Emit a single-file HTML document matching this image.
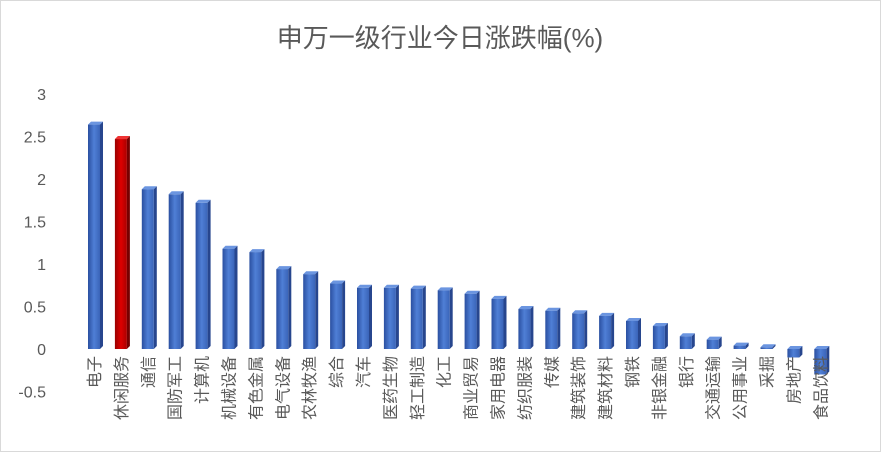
<!DOCTYPE html>
<html><head><meta charset="utf-8"><style>
body{margin:0;background:#fff}
svg{display:block;font-family:"Liberation Sans","Noto Sans CJK SC",sans-serif}
</style></head><body>
<svg id="c" width="881" height="452">
<defs>
<linearGradient id="gb" x1="0" x2="1"><stop offset="0" stop-color="#2a4fa0"/><stop offset="0.5" stop-color="#4f7fd6"/><stop offset="1" stop-color="#3a64b8"/></linearGradient>
<linearGradient id="gr" x1="0" x2="1"><stop offset="0" stop-color="#900"/><stop offset="0.5" stop-color="#d00"/><stop offset="1" stop-color="#a00"/></linearGradient>
</defs>
<rect x="0.5" y="0.5" width="880" height="451" fill="#fff" stroke="#d9d9d9"/>
<text x="440" y="47" text-anchor="middle" font-size="26" fill="#595959">申万一级行业今日涨跌幅(%)</text>
<g id="axis"></g><g id="bars"></g><g id="labels"></g>
</svg>
<script>
const categories=["电子","休闲服务","通信","国防军工","计算机","机械设备","有色金属","电气设备","农林牧渔","综合","汽车","医药生物","轻工制造","化工","商业贸易","家用电器","纺织服装","传媒","建筑装饰","建筑材料","钢铁","非银金融","银行","交通运输","公用事业","采掘","房地产","食品饮料"];
const values=[2.64,2.47,1.88,1.82,1.72,1.18,1.14,0.94,0.88,0.77,0.72,0.72,0.71,0.69,0.65,0.59,0.47,0.45,0.42,0.39,0.33,0.27,0.15,0.11,0.04,0.02,-0.1,-0.3];
const ticks=[3,2.5,2,1.5,1,0.5,0,-0.5];
const highlight=[1];
const NS="http://www.w3.org/2000/svg";
const y=v=>349-v*85;
const x=i=>94+i*26.9;
const ax=document.getElementById('axis'),bg=document.getElementById('bars'),lg=document.getElementById('labels');
function mk(tag,at){const e=document.createElementNS(NS,tag);for(const k in at)e.setAttribute(k,at[k]);return e;}
ticks.forEach(t=>{const e=mk('text',{x:46,y:y(t)+6,'text-anchor':'end','font-size':'16',fill:'#595959'});e.textContent=t;


ax.appendChild(e);});
values.forEach((v,i)=>{
const cx=x(i),top=Math.min(y(v),y(0)),h=Math.abs(y(v)-y(0));
const g=mk('g',{});


const red=highlight.includes(i);
g.appendChild(mk('polygon',{points:`${cx-6},${top} ${cx-3},${top-3} ${cx+9},${top-3} ${cx+6},${top}`,fill:red?'#e33':'#6b95e0'}));
g.appendChild(mk('polygon',{points:`${cx+6},${top} ${cx+9},${top-3} ${cx+9},${top+h-3} ${cx+6},${top+h}`,fill:red?'#700':'#27468e'}));
g.appendChild(mk('rect',{x:cx-6,y:top,width:12,height:h,fill:red?'url(#gr)':'url(#gb)'}));
bg.appendChild(g);
const t=mk('text',{x:0,y:0,'text-anchor':'end','font-size':'16',fill:'#595959',transform:`translate(${cx+6},356) rotate(-90)`});
t.textContent=categories[i];


lg.appendChild(t);
});
</script>
</body></html>
